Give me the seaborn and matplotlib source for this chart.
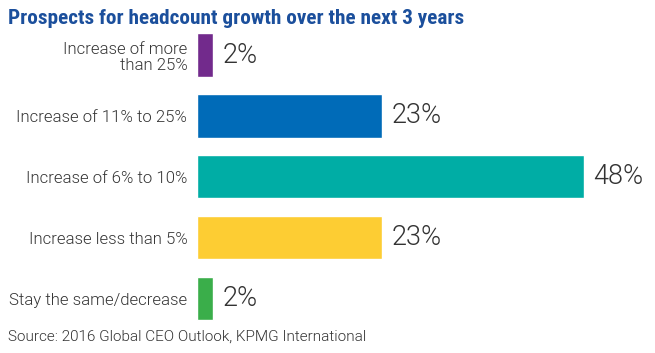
import matplotlib
matplotlib.use("Agg")
import matplotlib.pyplot as plt
import seaborn as sns
import pandas as pd

categories = ["Increase of more\nthan 25%", "Increase of 11% to 25%", "Increase of 6% to 10%",
              "Increase less than 5%", "Stay the same/decrease"]
values = [2, 23, 48, 23, 2]
value_labels = ["2%", "23%", "48%", "23%", "2%"]
colors = ["#722A8C", "#006BB8", "#00ADA5", "#FDCD33", "#3AAE4A"]
title = "Prospects for headcount growth over the next 3 years"
source = "Source: 2016 Global CEO Outlook, KPMG International"

sns.set_theme(style="white")
plt.rcParams['font.family'] = ['Roboto', 'Lato', 'DejaVu Sans']

df = pd.DataFrame({"category": categories, "value": values})

fig = plt.figure(figsize=(6.55, 3.53), dpi=100)
ax = fig.add_axes([197/655, 24/353, 451/655, 1 - 24.6/353 - 24/353])
sns.barplot(data=df, x="value", y="category", hue="category", palette=colors,
            legend=False, width=0.71, ax=ax, saturation=1)
ax.set_xlim(0, 56)
ax.set_ylim(4.5, -0.5)
ax.set_xlabel("")
ax.set_ylabel("")
ax.set_xticks([])
for s in ax.spines.values():
    s.set_visible(False)
ax.tick_params(axis="y", length=0, pad=7, labelsize=12.1, labelcolor="#333333")
for lbl in ax.get_yticklabels():
    lbl.set_linespacing(1.1)
    lbl.set_fontweight(300)

for i, (v, t) in enumerate(zip(values, value_labels)):
    ax.annotate(t, xy=(v, i), xytext=(7, 0), textcoords="offset points",
                va="center", ha="left", fontsize=19.5, color="#333333", fontweight=300)

fig.text(8/655, 1 - 18/353, title, ha="left", va="center", fontsize=15.3,
         fontweight="bold", color="#1B4F9C",
         family=['Roboto Condensed', 'DejaVu Sans'])
fig.text(8/655, 1 - 337/353, source, ha="left", va="center", fontsize=11,
         color="#333333", fontweight=300)

fig.savefig("out.png", dpi=100)
